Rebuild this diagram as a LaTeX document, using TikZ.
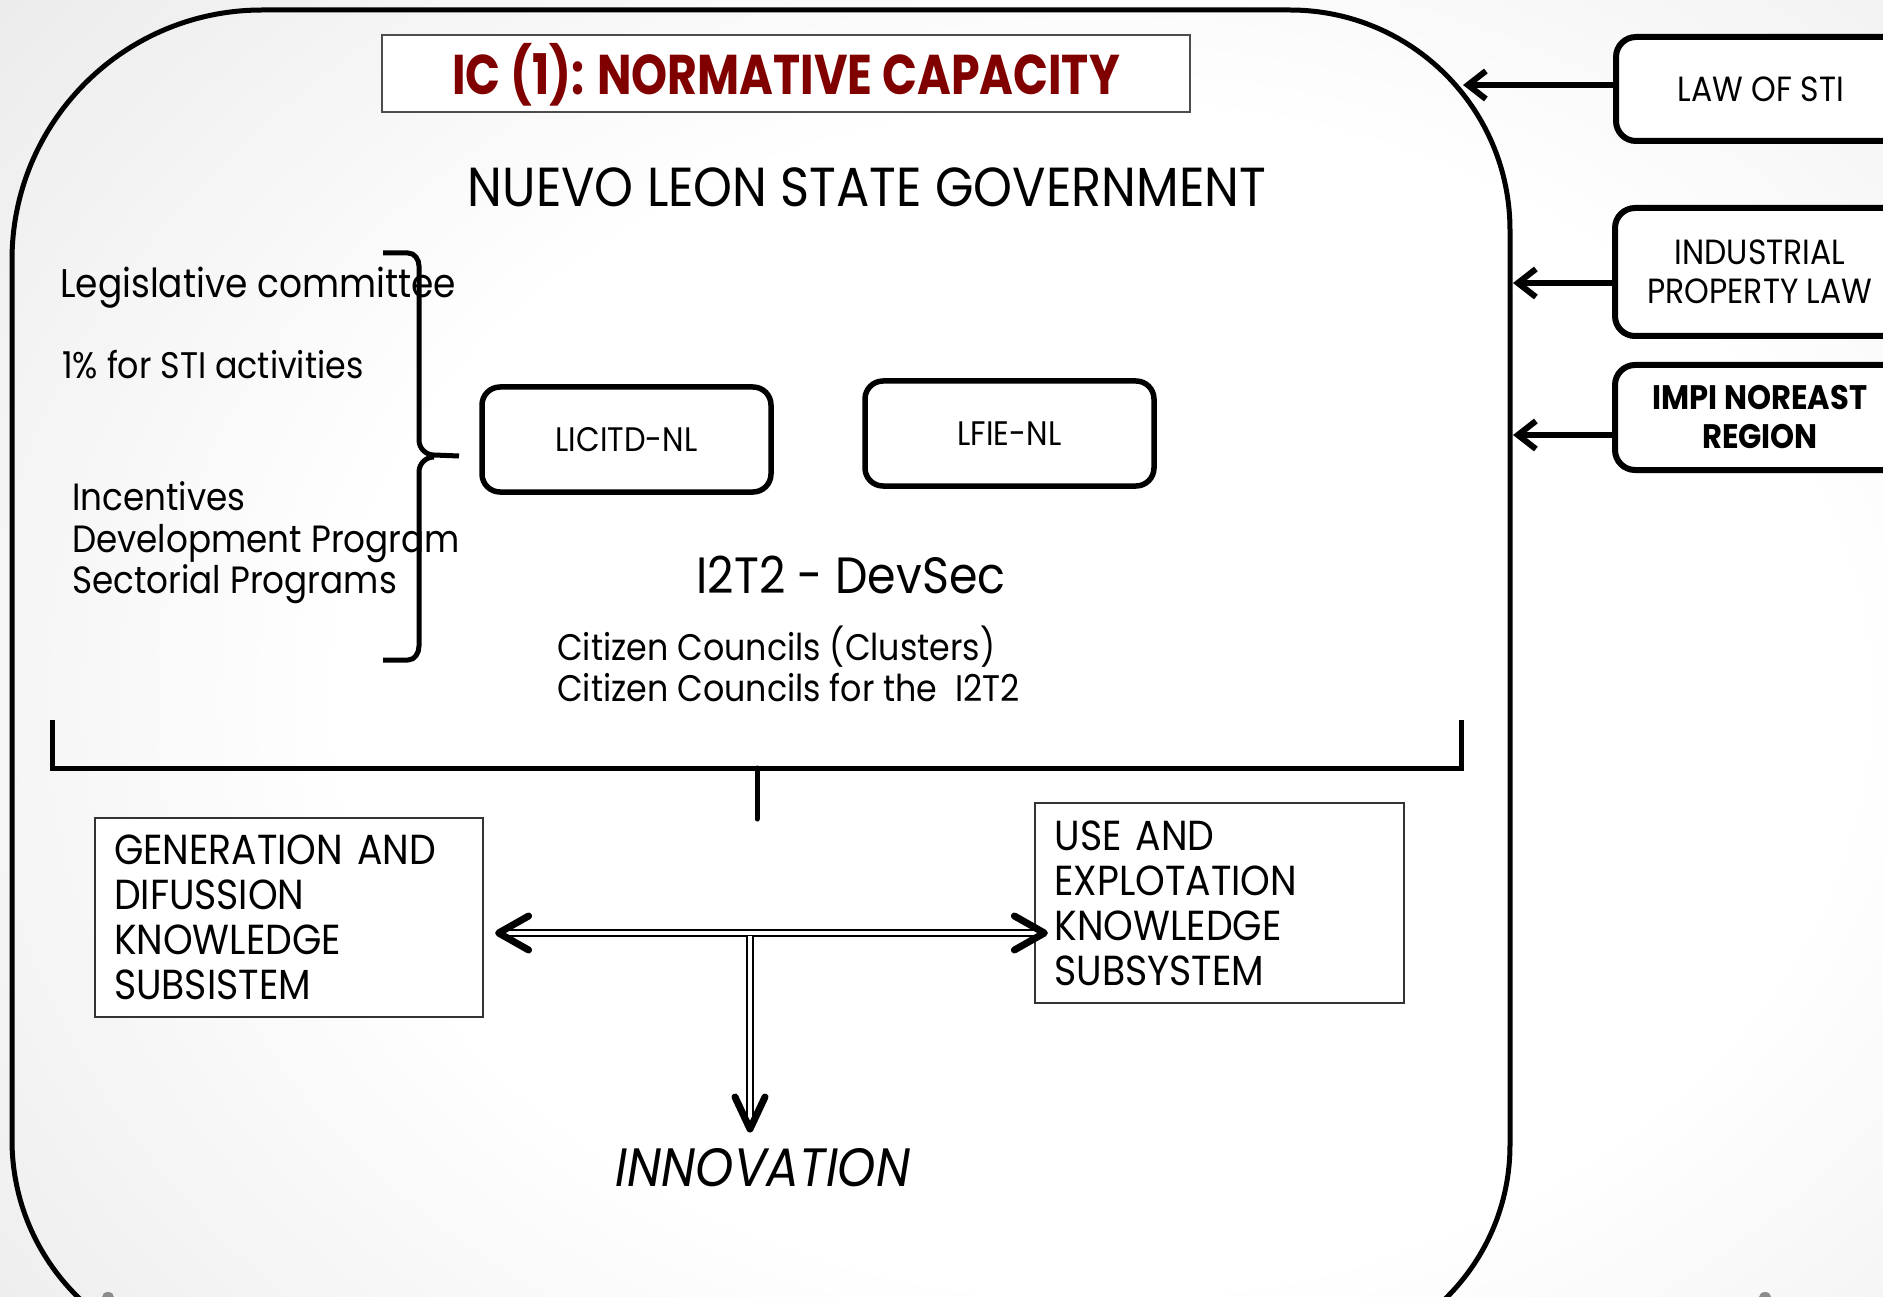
\documentclass[tikz,border=0pt]{standalone}
\usepackage{fontspec}
\setmainfont{Poppins}[FakeStretch=0.9]
\usetikzlibrary{calc,arrows.meta}
\definecolor{titlered}{RGB}{128,0,0}
\newcommand{\fsz}[1]{\fontsize{#1}{#1}\selectfont}
\pgfdeclareradialshading{slidebg}{\pgfpoint{0bp}{0bp}}{color(0bp)=(white); color(14bp)=(white); color(50bp)=(black!22)}
\tikzset{
  outline/.style={line width=5},
  roundbox/.style={draw, line width=5.5, rounded corners=18, fill=white, inner sep=0pt,
    minimum width=289, minimum height=105, font=\fsz{34}},
  sidebox/.style={draw, line width=6, rounded corners=20, fill=white, inner sep=0pt,
    minimum width=290, align=center},
  thinbox/.style={draw=black!80, line width=1.2, fill=white, align=left, inner sep=0pt, inner xsep=19},
  plaintext/.style={inner sep=0pt, anchor=base west},
  sidearrow/.style={line width=6, -{Straight Barb[length=18,width=28]}},
  headline/.style={line width=7, line cap=round, line join=round},
  dbl/.style={double, double distance=3.5, line width=2},
}
\begin{document}
\begin{tikzpicture}[x=1pt,y=-1pt]
\useasboundingbox (0,0) rectangle (1883,1297);
\clip (0,0) rectangle (1883,1297);
\shade[shading=slidebg] (-250,-350) rectangle (2450,1750);
% small gray marks at bottom
\fill[black!45] (108,1297) ellipse[x radius=6, y radius=5];
\fill[black!45] (1765,1297) ellipse[x radius=6, y radius=5];
% big rounded outline
\draw[outline] (12,260) arc[start angle=180, end angle=270, radius=250] -- (1290,10)
  arc[start angle=270, end angle=360, radius=220] -- (1510,1145)
  arc[start angle=0, end angle=90, radius=215] -- (232,1360)
  arc[start angle=90, end angle=180, radius=220] -- cycle;
% title
\node[draw=black!70, line width=1.2, fill=white, minimum width=808, minimum height=77, inner sep=0pt]
  (title) at (786,73.5) {};
\node[text=titlered, font=\bfseries\fsz{56}, inner sep=0pt] (titletext) at (786,75) {\scalebox{0.91}[1]{IC (1): NORMATIVE CAPACITY}};
% heading
\node[inner sep=0pt, anchor=base, font=\fsz{55}] (gov) at (867,207) {NUEVO LEON STATE GOVERNMENT};
% left texts
\node[plaintext, font=\fsz{40}] (legis) at (60,298) {Legislative committee};
\node[plaintext, font=\fsz{37}] (pct) at (62,379) {1\% for STI activities};
\node[plaintext, font=\fsz{38}] (incent1) at (72,510) {Incentives};
\node[plaintext, font=\fsz{38}] (incent2) at (72,552) {Development Program};
\node[plaintext, font=\fsz{38}] (incent3) at (72,593) {Sectorial Programs};
% brace
\coordinate (bracetip) at (459,456);
\draw[line width=5, line join=round] (383,253) -- (408,253) to[out=0,in=90] (419,266) -- (419,440)
  to[out=-90,in=180] (434,455) -- (bracetip);
\draw[line width=5, line join=round] (434,457) to[out=180,in=90] (419,472) -- (419,646)
  to[out=-90,in=0] (408,660) -- (383,660);
% laws boxes
\node[roundbox] (licitd) at (626.5,439.5) {LICITD-NL};
\node[roundbox] (lfie) at (1009.5,433.5) {LFIE-NL};
% I2T2
\node[inner sep=0pt, anchor=base, font=\fsz{51}] (itwo) at (851,593) {I2T2 - DevSec};
\node[plaintext, font=\fsz{37}] (citizen1) at (557,660) {Citizen Councils (Clusters)};
\node[plaintext, font=\fsz{37}] (citizen2) at (557,701) {Citizen Councils for the\ \ I2T2};
% bracket
\coordinate (brL) at (52,720);
\coordinate (brR) at (1461,720);
\coordinate (stubtop) at (757,768);
\coordinate (stubbot) at (757,819);
\draw[line width=5] (brL) -- (52,768) -- (1461,768) -- (brR);
\draw[line width=5, line cap=round] (stubtop) -- (stubbot);
% subsystems
\node[thinbox, minimum width=388, minimum height=199, text width=350, anchor=center,
  font=\fontsize{42}{45}\selectfont] (gen) at (289,917.5)
  {GENERATION AND\\DIFUSSION\\KNOWLEDGE\\SUBSISTEM};
\node[thinbox, minimum width=369, minimum height=200, text width=330, anchor=center,
  font=\fontsize{42}{45}\selectfont] (use) at (1219.5,903)
  {USE AND\\EXPLOTATION\\KNOWLEDGE\\SUBSYSTEM};
% innovation
\node[inner sep=0pt, anchor=base, font=\itshape\fsz{54}] (innov) at (763,1186) {INNOVATION};
% double arrows
\coordinate (hl) at ($(gen.east)+(15,15.5)$);
\coordinate (hr) at ($(use.west)+(10,30)$);
\coordinate (junc) at (750,936);
\coordinate (dtip) at (750,1129);
\draw[dbl] (hl) -- (hr);
\draw[dbl] (junc) -- (dtip);
\draw[headline] ($(hl)+(30,-17)$) -- (hl) -- ($(hl)+(30,17)$);
\draw[headline] ($(hr)+(-30,-17)$) -- (hr) -- ($(hr)+(-30,17)$);
\draw[headline] ($(dtip)+(-15,-32)$) -- (dtip) -- ($(dtip)+(15,-32)$);
% side boxes
\node[sidebox, minimum height=104, anchor=north west, font=\fsz{35}] (law) at (1613,34) {LAW OF STI};
\node[sidebox, minimum height=128, anchor=north west, font=\fontsize{35}{39}\selectfont] (ipl) at (1612,205) {INDUSTRIAL\\PROPERTY LAW};
\node[sidebox, minimum height=105, anchor=north west, font=\fontsize{34}{39}\selectfont\bfseries] (impi) at (1612,362) {IMPI NOREAST\\REGION};
\coordinate (c1) at (1463,85);
\coordinate (c2) at (1513,283);
\coordinate (c3) at (1513,435);
\draw[sidearrow] (law.west |- c1) -- (c1);
\draw[sidearrow] (ipl.west |- c2) -- (c2);
\draw[sidearrow] (impi.west |- c3) -- (c3);
\end{tikzpicture}
\end{document}
